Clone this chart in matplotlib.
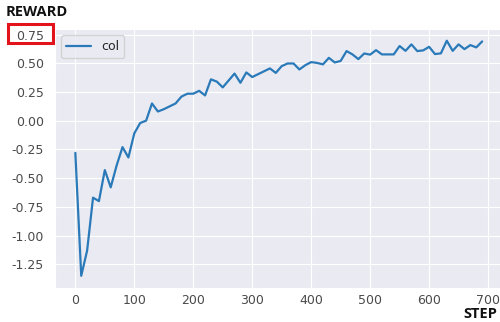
import matplotlib
matplotlib.use("Agg")
import matplotlib.pyplot as plt
import seaborn as sns
from matplotlib.patches import Rectangle

# reward curve, one point every 10 steps
steps = list(range(0, 700, 10))
reward = [
    -0.28, -1.35, -1.13, -0.67, -0.70, -0.43, -0.58, -0.39, -0.23, -0.32,
    -0.11, -0.02, 0.00, 0.15, 0.08, 0.10, 0.125, 0.15, 0.21, 0.235,
    0.235, 0.26, 0.22, 0.36, 0.34, 0.29, 0.35, 0.41, 0.33, 0.42,
    0.38, 0.405, 0.43, 0.455, 0.416, 0.475, 0.498, 0.498, 0.446, 0.483,
    0.51, 0.503, 0.49, 0.547, 0.507, 0.52, 0.606, 0.577, 0.536, 0.585,
    0.575, 0.614, 0.577, 0.577, 0.577, 0.65, 0.608, 0.664, 0.606, 0.612,
    0.643, 0.58, 0.586, 0.696, 0.608, 0.664, 0.623, 0.658, 0.638, 0.69,
]
xticks = [0, 100, 200, 300, 400, 500, 600, 700]
yticks = [-1.25, -1.00, -0.75, -0.50, -0.25, 0.00, 0.25, 0.50, 0.75]

sns.set_style("darkgrid")
plt.rcParams["font.family"] = ["DejaVu Sans"]

fig = plt.figure(figsize=(5, 3.22), dpi=100)
ax = fig.add_axes([0.11, 0.107, 0.895, 0.803])
ax.plot(steps, reward, color="#2a7ab9", lw=1.6, label="col")
ax.set_xticks(xticks)
ax.set_yticks(yticks)
ax.set_yticklabels(["%.2f" % v for v in yticks])
ax.tick_params(axis="both", labelsize=9, labelcolor="#4a4a4a", length=0)
ax.tick_params(axis="y", pad=8)
ax.tick_params(axis="x", pad=5)
ax.legend(loc="upper left", fontsize=9, frameon=True)

fig.text(0.012, 0.962, "REWARD", fontsize=10.5, fontweight="bold",
         family="Open Sans", color="#111111", va="center")
fig.text(0.994, 0.026, "STEP", fontsize=10.5, fontweight="bold",
         family="Open Sans", color="#111111", va="center", ha="right")

# red box round the top tick label
fig.patches.append(Rectangle((0.016, 0.865), 0.09, 0.062, transform=fig.transFigure,
                             fill=False, edgecolor="#e3131b", lw=2.2))

fig.savefig("out.png", dpi=100)
